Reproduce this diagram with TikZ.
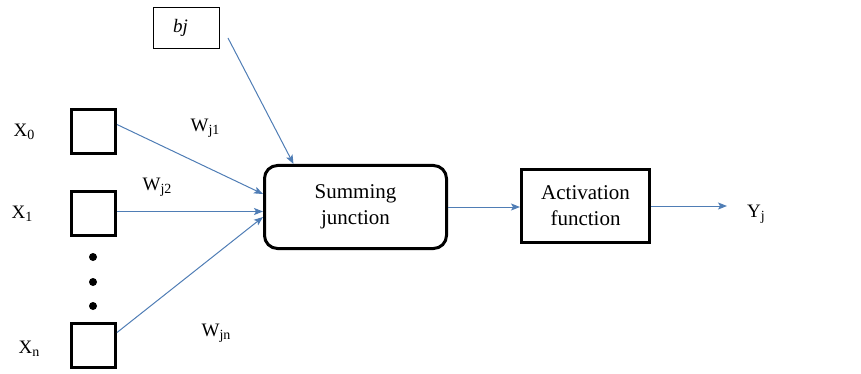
\documentclass[tikz,border=0pt]{standalone}
\usepackage{fontspec}
\setmainfont{Liberation Serif}
\usetikzlibrary{arrows.meta,calc}
\definecolor{arrowblue}{HTML}{4F7DB5}
\newcommand{\mysub}[1]{\raisebox{-3pt}{\fontsize{14}{14}\selectfont #1}}
\tikzset{
  inbox/.style={draw=black,line width=3pt,minimum width=44pt,minimum height=44pt,inner sep=0pt},
  blockbox/.style={draw=black,line width=3pt,inner sep=0pt,align=center,font=\fontsize{21}{26}\selectfont},
  lbl/.style={inner sep=0pt,font=\fontsize{19}{20}\selectfont},
  wlbl/.style={inner sep=0pt,font=\fontsize{19}{20}\selectfont},
  conn/.style={draw=arrowblue,line width=1pt,-{Stealth[length=9pt,width=7pt,inset=2pt]}},
  dotc/.style={circle,fill=black,minimum size=8pt,inner sep=0pt}
}
\begin{document}
\begin{tikzpicture}[x=1pt,y=-1pt]
\useasboundingbox (0,0) rectangle (861,374);
% input squares
\node[inbox] (x0) at (93.5,131.5) {};
\node[inbox] (x1) at (93.5,213.5) {};
\node[inbox] (xn) at (93.5,345.5) {};
\node[dotc] (d1) at (93,257) {};
\node[dotc] (d2) at (93,282) {};
\node[dotc] (d3) at (93,306) {};
% input labels
\node[lbl] (lx0) at (24,132) {X\mysub{0}};
\node[lbl] (lx1) at (22,214) {X\mysub{1}};
\node[lbl] (lxn) at (29,349) {X\mysub{n}};
% bias
\node[draw=black,line width=1pt,minimum width=66pt,minimum height=41pt,inner sep=0pt,font=\fontsize{19}{22}\selectfont\itshape] (bj) at (186.5,28) {bj\hspace*{12pt}};
% blocks
\node[blockbox,rounded corners=13pt,minimum width=182pt,minimum height=83pt] (sum) at (355.5,207) {Summing\\junction};
\node[blockbox,minimum width=128pt,minimum height=73pt] (act) at (585.5,206) {Activation\\function};
\node[lbl,anchor=west] (yj) at (747,214) {Y\mysub{j}};
% weights
\node[wlbl] (w1) at (205,128) {W\mysub{j1}};
\node[wlbl] (w2) at (157,187) {W\mysub{j2}};
\node[wlbl] (wn) at (216,333) {W\mysub{jn}};
% connectors
\draw[conn] ([yshift=7pt]x0.east) -- ([yshift=13pt]sum.west);
\draw[conn] ([yshift=2pt]x1.east) -- ([yshift=2pt]x1.east -| sum.west);
\draw[conn] ([yshift=13pt]xn.east) -- ([yshift=-10pt]sum.west);
\draw[conn] ([xshift=8pt,yshift=-10pt]bj.east) -- ([xshift=-62pt]sum.north);
\draw[conn] (sum.east) -- (sum.east -| act.west);
\draw[conn,shorten >=20pt] (act.east) -- (act.east -| yj.west);
\end{tikzpicture}
\end{document}
